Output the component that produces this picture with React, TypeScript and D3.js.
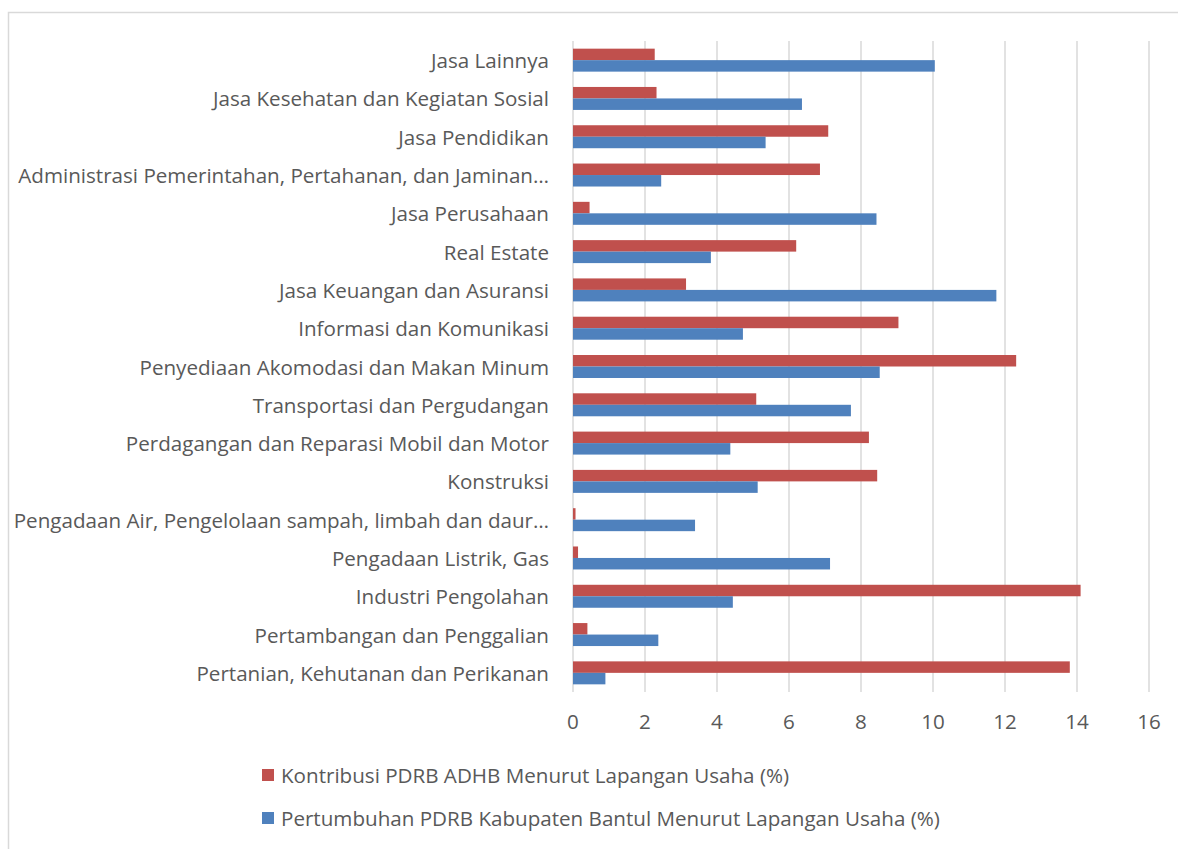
import * as d3 from "d3";

const categories = [
  "Jasa Lainnya",
  "Jasa Kesehatan dan Kegiatan Sosial",
  "Jasa Pendidikan",
  "Administrasi Pemerintahan, Pertahanan, dan Jaminan…",
  "Jasa Perusahaan",
  "Real Estate",
  "Jasa Keuangan dan Asuransi",
  "Informasi dan Komunikasi",
  "Penyediaan Akomodasi dan Makan Minum",
  "Transportasi dan Pergudangan",
  "Perdagangan dan Reparasi Mobil dan Motor",
  "Konstruksi",
  "Pengadaan Air, Pengelolaan sampah, limbah dan daur…",
  "Pengadaan Listrik, Gas",
  "Industri Pengolahan",
  "Pertambangan dan Penggalian",
  "Pertanian, Kehutanan dan Perikanan",
];

const kontribusi = [2.27, 2.32, 7.09, 6.86, 0.46, 6.2, 3.14, 9.04, 12.31, 5.09, 8.22, 8.45, 0.07, 0.14, 14.1, 0.4, 13.8];
const pertumbuhan = [10.05, 6.36, 5.35, 2.45, 8.43, 3.83, 11.76, 4.72, 8.52, 7.72, 4.37, 5.13, 3.39, 7.14, 4.44, 2.37, 0.9];

const seriesNames = [
  "Kontribusi PDRB ADHB Menurut Lapangan Usaha (%)",
  "Pertumbuhan PDRB Kabupaten Bantul Menurut Lapangan Usaha (%)",
];
const colors = ["#C0504D", "#4F81BD"];
const xTicks = [0, 2, 4, 6, 8, 10, 12, 14, 16];

const W = 1178;
const H = 849;
const font = "'Open Sans', sans-serif";
const fs = 20.6;
const textColor = "#595959";

export default function App() {
  const x = d3.scaleLinear().domain([0, 16]).range([573, 1149]);
  const y = d3
    .scaleBand<string>()
    .domain(categories)
    .range([41, 692])
    .paddingInner(0.4)
    .paddingOuter(0.2);
  const inner = d3
    .scaleBand<number>()
    .domain([0, 1])
    .range([0, y.bandwidth()]);

  const series = [kontribusi, pertumbuhan];

  return (
    <svg
      width={W}
      height={H}
      style={{ position: "absolute", left: 0, top: 0, background: "#fff" }}
    >
      <rect x={8.5} y={12.5} width={1300} height={1000} fill="none" stroke="#d9d9d9" strokeWidth={1.5} />

      {xTicks.map((t) => (
        <g key={t}>
          <line x1={x(t)} x2={x(t)} y1={41} y2={692} stroke="#d9d9d9" strokeWidth={1.5} />
          <text
            x={x(t)}
            y={721}
            textAnchor="middle"
            dominantBaseline="central"
            fontFamily={font}
            fontSize={fs}
            fill={textColor}
          >
            {t}
          </text>
        </g>
      ))}

      {categories.map((c, i) => (
        <g key={c}>
          <text
            x={549}
            y={(y(c) ?? 0) + y.bandwidth() / 2}
            textAnchor="end"
            dominantBaseline="central"
            fontFamily={font}
            fontSize={fs}
            fill={textColor}
          >
            {c}
          </text>
          {series.map((s, k) => (
            <rect
              key={k}
              x={x(0)}
              y={(y(c) ?? 0) + (inner(k) ?? 0)}
              width={x(s[i]) - x(0)}
              height={inner.bandwidth()}
              fill={colors[k]}
            />
          ))}
        </g>
      ))}

      {seriesNames.map((n, k) => (
        <g key={n} transform={`translate(262, ${775 + k * 43})`}>
          <rect x={0} y={-6} width={12} height={12} fill={colors[k]} />
          <text
            x={19}
            y={0}
            dominantBaseline="central"
            fontFamily={font}
            fontSize={fs}
            fill={textColor}
          >
            {n}
          </text>
        </g>
      ))}
    </svg>
  );
}
